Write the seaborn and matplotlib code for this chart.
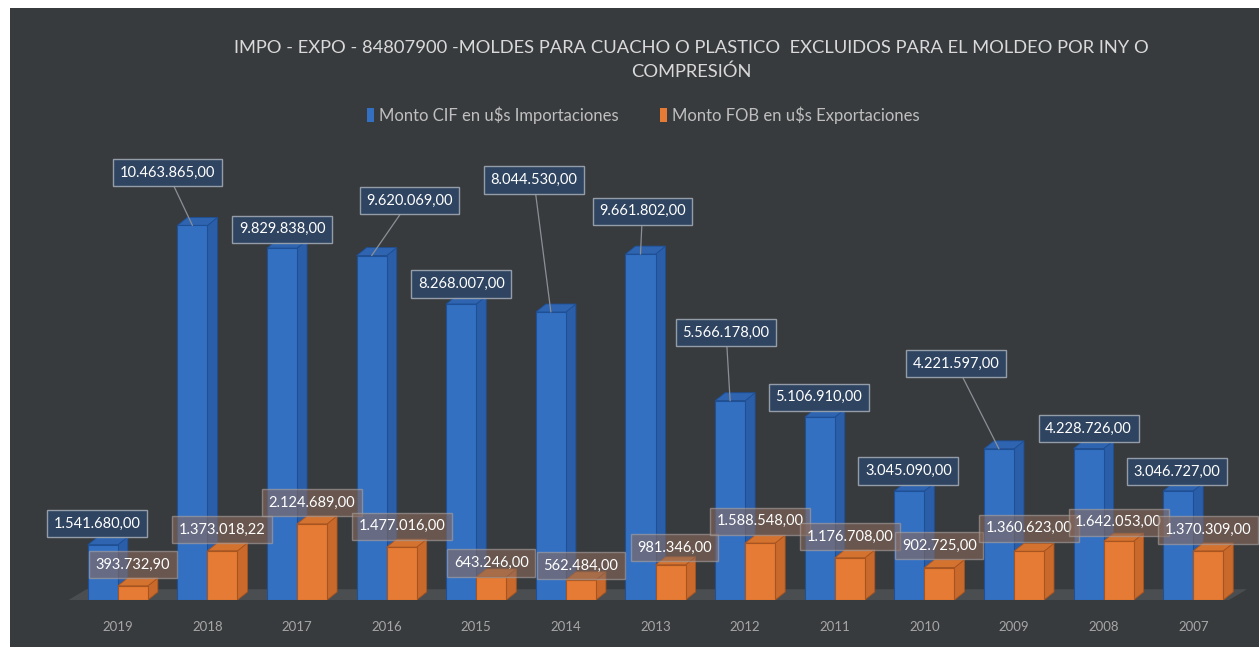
import matplotlib
matplotlib.use("Agg")
import matplotlib.pyplot as plt
import seaborn as sns
import pandas as pd
from matplotlib.patches import Polygon, Rectangle, Patch

years = ["2019", "2018", "2017", "2016", "2015", "2014", "2013",
         "2012", "2011", "2010", "2009", "2008", "2007"]
impo_cif = [1541680.00, 10463865.00, 9829838.00, 9620069.00, 8268007.00, 8044530.00,
            9661802.00, 5566178.00, 5106910.00, 3045090.00, 4221597.00, 4228726.00,
            3046727.00]
expo_fob = [393732.90, 1373018.22, 2124689.00, 1477016.00, 643246.00, 562484.00,
            981346.00, 1588548.00, 1176708.00, 902725.00, 1360623.00, 1642053.00,
            1370309.00]
series = ["Monto CIF en u$s Importaciones", "Monto FOB en u$s Exportaciones"]
title = ("IMPO - EXPO - 84807900 -MOLDES PARA CUACHO O PLASTICO  EXCLUIDOS PARA EL MOLDEO POR INY O\n"
         "COMPRESIÓN")

# label offsets (pixels) from the top of each bar, and whether a leader line is drawn
impo_off = [(-6, 21), (-25, 53), (0, 19), (38, 55), (0, 20), (-17, 132), (2, 43),
            (-4, 68), (-1, 20), (-1, 20), (-43, 85), (0, 20), (-1, 19)]
impo_leader = [False, True, False, True, False, True, True, True, False, False, True, False, False]
expo_off = [(0, 21), (0, 21), (0, 21), (0, 21), (0, 14), (0, 14), (4, 17),
            (0, 22), (0, 21), (0, 22), (0, 23), (0, 19), (0, 21)]

BG = "#383b3e"
BLUE = "#3470c2"
ORANGE = "#e57b34"
TXT = "#d9d9d9"


def fmt(v):
    s = f"{v:,.2f}"
    return s.replace(",", "X").replace(".", ",").replace("X", ".")


df = pd.DataFrame({
    "year": years * 2,
    "value": impo_cif + expo_fob,
    "serie": [series[0]] * len(years) + [series[1]] * len(years),
})

sns.set_style("dark")
plt.rcParams["font.family"] = ["Lato", "DejaVu Sans"]

fig = plt.figure(figsize=(12.59, 6.47), dpi=100)
fig.patch.set_facecolor("white")
fig.patches.append(Rectangle((10 / 1259, 0), 1, (647 - 8) / 647, transform=fig.transFigure,
                             facecolor=BG, edgecolor="none", zorder=-10))

ax = fig.add_axes([73 / 1259, 47 / 647, 1165 / 1259, 460 / 647])
ax.set_facecolor("none")

sns.barplot(data=df, x="year", y="value", hue="serie", order=years, hue_order=series,
            palette=[BLUE, ORANGE], width=0.67, saturation=1, ax=ax, legend=False,
            edgecolor="none", zorder=3)

ymax = 460 / 35.8 * 1e6
ax.set_ylim(0, ymax)
ax.set_xlim(-0.5, len(years) - 0.5)

# fake 3D depth
ddx = 10 / 89.6
ddy = 8 / 460 * ymax
floor = Polygon([(-0.55, 0), (len(years) - 0.6, 0), (len(years) - 0.6 + 0.2, 0.3e6),
                 (-0.55 + 0.2, 0.3e6)], closed=True, facecolor="#4b4e51",
                edgecolor="none", zorder=1, clip_on=False)
ax.add_patch(floor)

shades = [("#2a5ea8", "#2e64b0", "#1f4f94"), ("#c9692b", "#d4722f", "#a85420")]
for k, cont in enumerate(ax.containers):
    side_c, top_c, edge_c = shades[k]
    for bar in cont:
        x0, w, h = bar.get_x(), bar.get_width(), bar.get_height()
        bar.set_edgecolor(edge_c)
        bar.set_linewidth(0.8)
        bar.set_zorder(4 + 2 * k)
        side = Polygon([(x0 + w, 0), (x0 + w + ddx, ddy), (x0 + w + ddx, h + ddy), (x0 + w, h)],
                       closed=True, facecolor=side_c, edgecolor=edge_c, lw=0.6, zorder=3 + 2 * k)
        top = Polygon([(x0, h), (x0 + ddx, h + ddy), (x0 + w + ddx, h + ddy), (x0 + w, h)],
                      closed=True, facecolor=top_c, edgecolor=edge_c, lw=0.6, zorder=3 + 2 * k)
        ax.add_patch(side)
        ax.add_patch(top)

# data labels
for k, cont in enumerate(ax.containers):
    vals = impo_cif if k == 0 else expo_fob
    offs = impo_off if k == 0 else expo_off
    for i, bar in enumerate(cont):
        xc = bar.get_x() + bar.get_width() / 2
        h = bar.get_height()
        if k == 0:
            box = dict(boxstyle="square,pad=0.45", facecolor="#2f4563", edgecolor="#9aa3ad",
                       lw=1.0, alpha=0.95)
        else:
            box = dict(boxstyle="square,pad=0.45", facecolor="#8a6a5c", edgecolor="#a9a2a0",
                       lw=1.0, alpha=0.6)
        arrow = None
        if k == 0 and impo_leader[i]:
            arrow = dict(arrowstyle="-", color="#8c9096", lw=0.9, shrinkA=0, shrinkB=0)
        ax.annotate(fmt(vals[i]), xy=(xc, h), xytext=offs[i], textcoords="offset pixels",
                    ha="center", va="center", fontsize=10.5, color="white", bbox=box,
                    arrowprops=arrow, zorder=10, annotation_clip=False)

ax.set_xlabel("")
ax.set_ylabel("")
ax.set_yticks([])
ax.tick_params(axis="x", colors="#a6a6a6", labelsize=9.5, length=0, pad=15)
for s in ax.spines.values():
    s.set_visible(False)
ax.grid(False)

fig.text(691 / 1259, 1 - 60 / 647, title, ha="center", va="center", fontsize=13.2,
         color=TXT, linespacing=1.6)

handles = [Patch(facecolor=BLUE, edgecolor="none"), Patch(facecolor=ORANGE, edgecolor="none")]
fig.legend(handles, series, loc="center", bbox_to_anchor=(643 / 1259, 1 - 115 / 647), ncol=2,
           frameon=False, fontsize=12, labelcolor="#bfbfbf", handlelength=0.4,
           handleheight=0.9, handletextpad=0.3, columnspacing=2.5)

fig.savefig("out.png", dpi=100, facecolor=fig.get_facecolor())
